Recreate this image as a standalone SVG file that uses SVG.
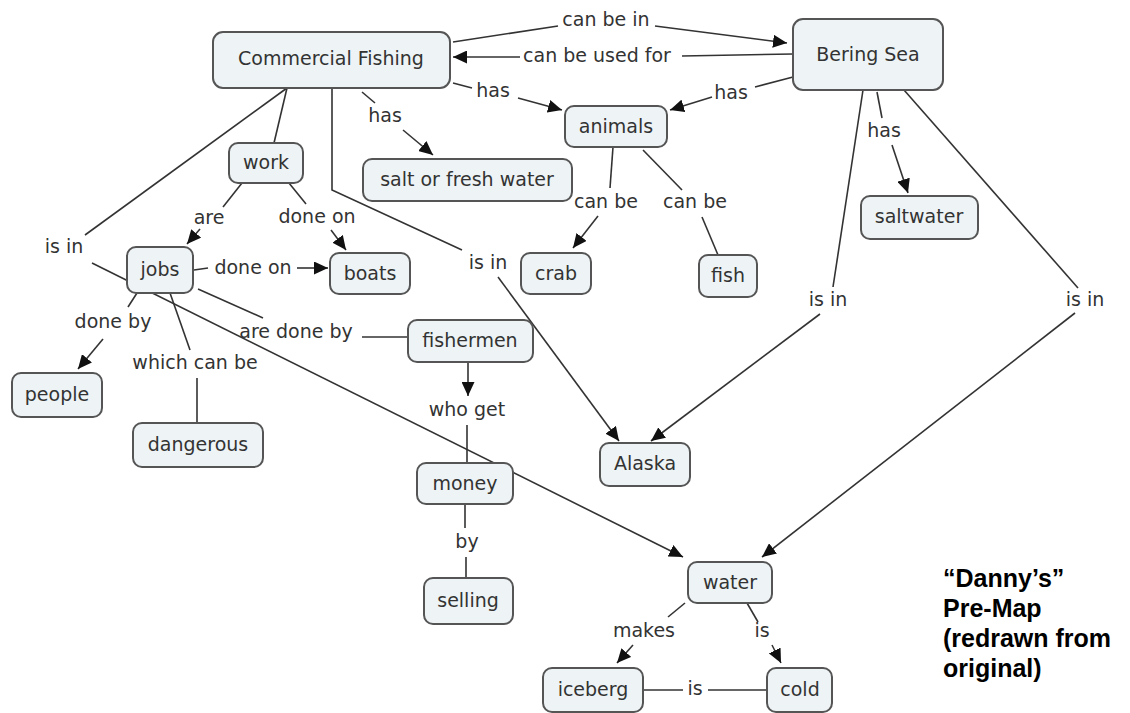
<svg xmlns="http://www.w3.org/2000/svg" width="1130" height="713" viewBox="0 0 1130 713">
<defs>
<marker id="arr" markerUnits="userSpaceOnUse" markerWidth="15" markerHeight="13" refX="14" refY="6.5" orient="auto"><path d="M0,0 L14,6.5 L0,13 z" fill="#111"/></marker>
<style>
.n rect{fill:#eef3f6;stroke:#555;stroke-width:2}
.n text,.lbl text{font-family:"DejaVu Sans",Verdana,sans-serif;font-size:19px;fill:#333;text-anchor:middle}
.c path{fill:none;stroke:#333;stroke-width:1.6}
.c path.a{marker-end:url(#arr)}
.t{font-family:"Liberation Sans",Arial,sans-serif;font-size:25px;font-weight:bold;fill:#000}
</style>
</defs>
<rect width="1130" height="713" fill="#fff"/>
<g id="connectors" class="c">
<path d="M453,42 L558,26"/><path class="a" d="M655,26 L787,43"/>
<path d="M793,54 L682,56"/><path class="a" d="M520,57 L453,57"/>
<path d="M453,83 L472,88"/><path class="a" d="M518,98 L562,110"/>
<path d="M793,77 L755,87"/><path class="a" d="M712,97 L670,110"/>
<path d="M362,92 L375,103"/><path class="a" d="M403,130 L433,155"/>
<path d="M877,92 L882,118"/><path class="a" d="M892,145 L908,193"/>
<path d="M287,88 L274,143"/>
<path d="M287,88 L85,235"/><path class="a" d="M92,263 L683,557"/>
<path d="M332,88 L332,190 L462,250"/><path class="a" d="M498,277 L619,441"/>
<path d="M613,147 L610,188"/><path class="a" d="M598,216 L573,248"/>
<path d="M643,150 L682,190"/><path d="M702,217 L718,255"/>
<path d="M242,183 L223,207"/><path class="a" d="M200,229 L187,244"/>
<path d="M289,183 L306,204"/><path class="a" d="M331,230 L346,250"/>
<path d="M194,270 L208,268"/><path class="a" d="M297,268 L328,268"/>
<path d="M137,293 L128,307"/><path class="a" d="M103,339 L78,369"/>
<path d="M170,293 L190,350"/><path d="M197,378 L197,423"/>
<path d="M198,289 L263,318"/><path d="M362,337 L408,337"/>
<path class="a" d="M468,362 L468,396"/><path d="M467,425 L467,463"/>
<path d="M465,504 L465,528"/><path d="M466,557 L466,578"/>
<path d="M863,90 L833,287"/><path class="a" d="M820,314 L651,441"/>
<path d="M904,90 L1078,288"/><path class="a" d="M1075,313 L762,557"/>
<path d="M685,603 L668,617"/><path class="a" d="M633,645 L617,663"/>
<path d="M747,603 L758,622"/><path class="a" d="M772,645 L781,663"/>
<path d="M643,690 L683,690"/><path d="M708,690 L767,690"/>
</g>
<g id="labels" class="lbl">
<text x="606" y="26">can be in</text>
<text x="597" y="62">can be used for</text>
<text x="493" y="97">has</text>
<text x="731" y="99">has</text>
<text x="385" y="122">has</text>
<text x="884" y="137">has</text>
<text x="209" y="224">are</text>
<text x="317" y="223">done on</text>
<text x="64" y="253">is in</text>
<text x="253" y="274">done on</text>
<text x="113" y="328">done by</text>
<text x="195" y="369">which can be</text>
<text x="296" y="338">are done by</text>
<text x="467" y="416">who get</text>
<text x="467" y="548">by</text>
<text x="488" y="269">is in</text>
<text x="606" y="208">can be</text>
<text x="695" y="208">can be</text>
<text x="828" y="306">is in</text>
<text x="1085" y="306">is in</text>
<text x="644" y="637">makes</text>
<text x="762" y="637">is</text>
<text x="695" y="695">is</text>
</g>
<g id="n-commercial-fishing" class="n"><rect x="213" y="32" width="237" height="56" rx="10"/><text x="331" y="65">Commercial Fishing</text></g>
<g id="n-bering-sea" class="n"><rect x="793" y="19" width="150" height="71" rx="10"/><text x="868" y="61">Bering Sea</text></g>
<g id="n-animals" class="n"><rect x="565" y="106" width="102" height="41" rx="9"/><text x="616" y="133">animals</text></g>
<g id="n-salt-or-fresh-water" class="n"><rect x="363" y="159" width="209" height="42" rx="9"/><text x="467" y="186">salt or fresh water</text></g>
<g id="n-work" class="n"><rect x="229" y="143" width="74" height="40" rx="9"/><text x="266" y="169">work</text></g>
<g id="n-jobs" class="n"><rect x="127" y="247" width="66" height="46" rx="9"/><text x="160" y="276">jobs</text></g>
<g id="n-boats" class="n"><rect x="330" y="253" width="80" height="41" rx="9"/><text x="370" y="280">boats</text></g>
<g id="n-crab" class="n"><rect x="521" y="253" width="70" height="41" rx="9"/><text x="556" y="280">crab</text></g>
<g id="n-fish" class="n"><rect x="699" y="255" width="58" height="42" rx="9"/><text x="728" y="282">fish</text></g>
<g id="n-saltwater" class="n"><rect x="861" y="196" width="117" height="43" rx="9"/><text x="919" y="223">saltwater</text></g>
<g id="n-people" class="n"><rect x="12" y="373" width="90" height="44" rx="9"/><text x="57" y="401">people</text></g>
<g id="n-dangerous" class="n"><rect x="133" y="423" width="130" height="44" rx="9"/><text x="198" y="451">dangerous</text></g>
<g id="n-fishermen" class="n"><rect x="408" y="320" width="125" height="42" rx="9"/><text x="470" y="347">fishermen</text></g>
<g id="n-money" class="n"><rect x="417" y="463" width="96" height="41" rx="9"/><text x="465" y="490">money</text></g>
<g id="n-selling" class="n"><rect x="424" y="578" width="89" height="46" rx="9"/><text x="468" y="607">selling</text></g>
<g id="n-alaska" class="n"><rect x="600" y="443" width="90" height="43" rx="9"/><text x="645" y="470">Alaska</text></g>
<g id="n-water" class="n"><rect x="688" y="562" width="84" height="41" rx="9"/><text x="730" y="589">water</text></g>
<g id="n-iceberg" class="n"><rect x="543" y="668" width="100" height="44" rx="9"/><text x="593" y="696">iceberg</text></g>
<g id="n-cold" class="n"><rect x="767" y="668" width="65" height="44" rx="9"/><text x="800" y="696">cold</text></g>
<g id="title">
<text class="t" x="943" y="587">“Danny’s”</text>
<text class="t" x="943" y="617">Pre-Map</text>
<text class="t" x="943" y="647">(redrawn from</text>
<text class="t" x="943" y="677">original)</text>
</g>
</svg>
